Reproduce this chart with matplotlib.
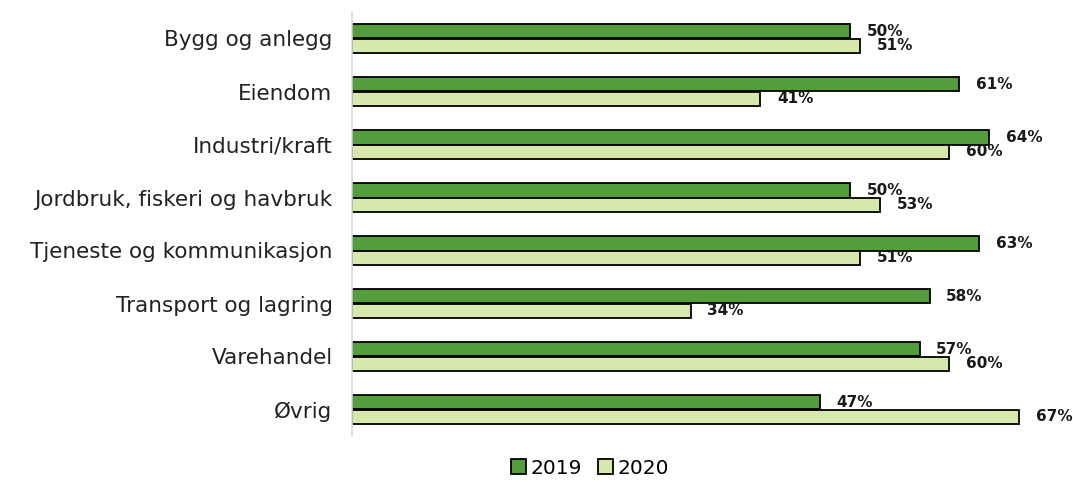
import numpy as np
from matplotlib import pyplot as plt

categories = ["Bygg og anlegg", "Eiendom", "Industri/kraft", "Jordbruk, fiskeri og havbruk",
              "Tjeneste og kommunikasjon", "Transport og lagring", "Varehandel", "Øvrig"]
v2019 = [50, 61, 64, 50, 63, 58, 57, 47]
v2020 = [51, 41, 60, 53, 51, 34, 60, 67]

plt.rcParams['font.family'] = ['DejaVu Sans']

fig = plt.figure(figsize=(10.73, 4.82), dpi=100)
ax = fig.add_axes([352/1073, 1 - 436/482, (1069-352)/1073, (436-12)/482])

y = np.arange(len(categories))
h = 0.265
b1 = ax.barh(y - h/2, v2019, height=h, color="#539E3B", edgecolor="black", linewidth=1.3, label="2019")
b2 = ax.barh(y + h/2, v2020, height=h, color="#D6E8AC", edgecolor="black", linewidth=1.3, label="2020")

for bars, vals in [(b1, v2019), (b2, v2020)]:
    for bar, v in zip(bars, vals):
        ax.annotate(f"{v}%", (v, bar.get_y() + bar.get_height()/2), xytext=(12, 0),
                    textcoords="offset points", va="center", ha="left",
                    fontsize=11, fontweight="bold", color="#1a1a1a")

ax.set_xlim(0, 72)
ax.set_ylim(len(categories) - 0.5, -0.5)
ax.set_yticks(y)
ax.set_yticklabels(categories, fontsize=15.5, color="#222222")
ax.tick_params(axis="y", length=0, pad=14)
ax.set_xticks([])
for s in ["top", "right", "bottom"]:
    ax.spines[s].set_visible(False)
ax.spines["left"].set_color("#D9D9D9")
ax.spines["left"].set_linewidth(1.2)

fig.legend(loc="center", bbox_to_anchor=(590/1073, 1 - 468/482), ncol=2, frameon=False,
           fontsize=14.5, handlelength=0.75, handleheight=0.75, handletextpad=0.2,
           columnspacing=0.8)

fig.savefig("out.png", dpi=100)
